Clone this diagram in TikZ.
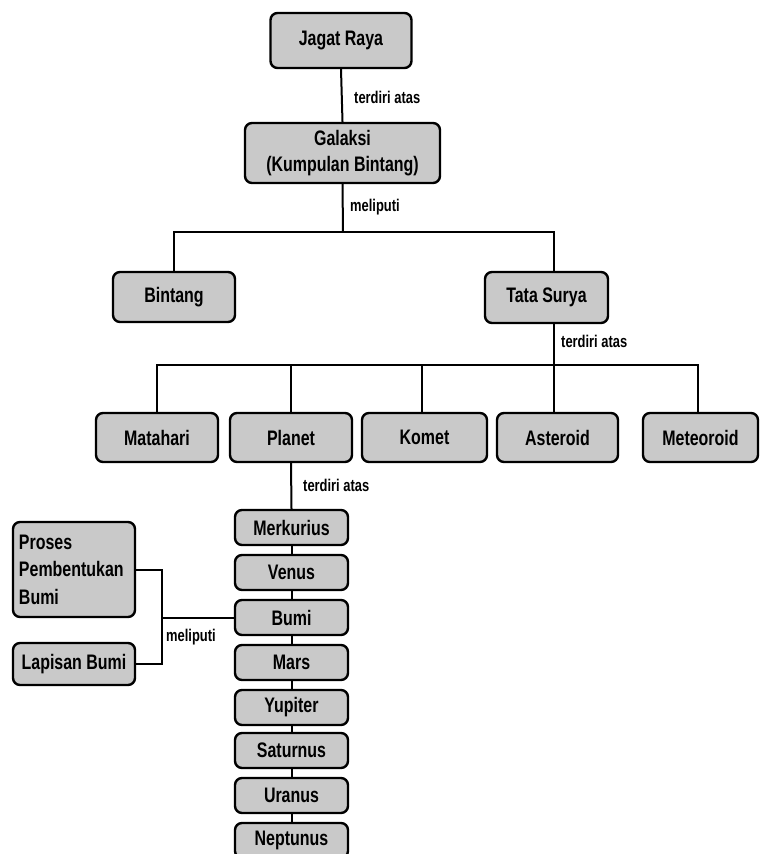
\documentclass[tikz,border=0pt]{standalone}
\usepackage{fontspec}
\setmainfont{Liberation Sans}[FakeStretch=0.76]
\begin{document}
\begin{tikzpicture}[x=1pt,y=-1pt,
  box/.style={draw=black, line width=2.4pt, fill=black!21, rounded corners=7pt,
    inner sep=0pt, align=center, font=\fontsize{21}{26}\selectfont\bfseries},
  lbl/.style={anchor=west, inner sep=0pt, font=\fontsize{17}{19}\selectfont\bfseries},
  conn/.style={draw=black, line width=2pt}]
\useasboundingbox[fill=white] (0,0) rectangle (760,854);
% nodes
\node[box, minimum width=141, minimum height=55] (jagat) at (341,40.5) {Jagat Raya};
\node[box, minimum width=195, minimum height=60] (galaksi) at (342.5,153) {Galaksi\\(Kumpulan\ Bintang)};
\node[box, minimum width=122, minimum height=50] (bintang) at (174,297) {Bintang};
\node[box, minimum width=123, minimum height=51] (tata) at (546.5,297.5) {Tata Surya};
\node[box, minimum width=122, minimum height=49] (matahari) at (157,437.5) {Matahari};
\node[box, minimum width=122, minimum height=49] (planet) at (291,437.5) {Planet};
\node[box, minimum width=125, minimum height=49] (komet) at (424.5,437.5) {Komet};
\node[box, minimum width=121, minimum height=49] (asteroid) at (557.5,437.5) {Asteroid};
\node[box, minimum width=115, minimum height=49] (meteoroid) at (700.5,437.5) {Meteoroid};
\node[box, minimum width=113, minimum height=35] (merkurius) at (291.5,527.5) {Merkurius};
\node[box, minimum width=113, minimum height=35] (venus) at (291.5,572.5) {Venus};
\node[box, minimum width=113, minimum height=35] (bumi) at (291.5,617.5) {Bumi};
\node[box, minimum width=113, minimum height=35] (mars) at (291.5,662.5) {Mars};
\node[box, minimum width=113, minimum height=35] (yupiter) at (291.5,707.5) {Yupiter};
\node[box, minimum width=113, minimum height=35] (saturnus) at (291.5,750.5) {Saturnus};
\node[box, minimum width=113, minimum height=35] (uranus) at (291.5,795.5) {Uranus};
\node[box, minimum width=113, minimum height=35] (neptunus) at (291.5,840.5) {Neptunus};
\node[box, minimum width=122, minimum height=95, align=left, text width=110,
  font=\fontsize{21}{27.5}\selectfont\bfseries] (proses) at (74,569.5) {Proses\\Pembentukan\\Bumi};
\node[box, minimum width=122, minimum height=42] (lapisan) at (74,664) {Lapisan Bumi};
% connectors
\coordinate (b1) at (343,232);
\coordinate (b2) at (554,365);
\coordinate (j) at (162,617.5);
\draw[conn] (jagat.south) -- (galaksi.north);
\draw[conn] (galaksi.south) -- (b1);
\draw[conn] (bintang.north) |- (b1) -| ([xshift=7.5pt]tata.north);
\draw[conn] ([xshift=7.5pt]tata.south) -- (b2);
\draw[conn] (matahari.north) |- (b2) -| ([xshift=-2.5pt]meteoroid.north);
\draw[conn] (planet.north) |- (b2);
\draw[conn] ([xshift=-2.5pt]komet.north) |- (b2);
\draw[conn] ([xshift=-3.5pt]asteroid.north) |- (b2);
\draw[conn] (planet.south) -- (merkurius.north);
\draw[conn] (merkurius.south) -- (venus.north);
\draw[conn] (venus.south) -- (bumi.north);
\draw[conn] (bumi.south) -- (mars.north);
\draw[conn] (mars.south) -- (yupiter.north);
\draw[conn] (yupiter.south) -- (saturnus.north);
\draw[conn] (saturnus.south) -- (uranus.north);
\draw[conn] (uranus.south) -- (neptunus.north);
\draw[conn] (proses.east) -| (j);
\draw[conn] (lapisan.east) -| (j);
\draw[conn] (j) -- (bumi.west);
% labels
\node[lbl] (l1) at (354,97) {terdiri atas};
\node[lbl] (l2) at (350,207) {meliputi};
\node[lbl] (l3) at (561,341) {terdiri atas};
\node[lbl] (l4) at (303,485) {terdiri atas};
\node[lbl] (l5) at (166,637) {meliputi};
\end{tikzpicture}
\end{document}
